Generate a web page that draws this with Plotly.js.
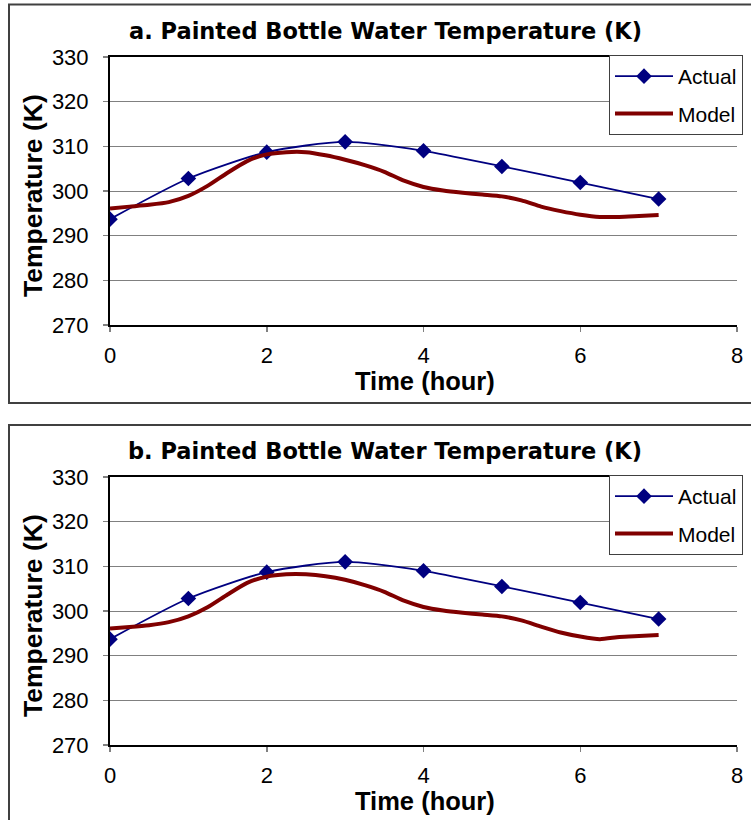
<!DOCTYPE html>
<html>
<head>
<meta charset="utf-8">
<script src="https://cdn.plot.ly/plotly-3.0.1.min.js"></script>
<style>
  html, body { margin: 0; padding: 0; background: #ffffff; }
  #chart { width: 751px; height: 820px; }
</style>
</head>
<body>
<div id="chart"></div>
<script>
// ---- Data ----
var hoursActual = [0, 1, 2, 3, 4, 5, 6, 7];
var actualA = [293.7, 302.8, 308.7, 311.0, 309.0, 305.5, 301.9, 298.2];
var actualB = [293.7, 302.8, 308.7, 311.0, 309.0, 305.5, 301.9, 298.2];

var hoursModel = [0, 0.25, 0.5, 0.75, 1, 1.25, 1.5, 1.75, 2, 2.25, 2.5, 2.75, 3, 3.25, 3.5,
                  3.75, 4, 4.25, 4.5, 4.75, 5, 5.25, 5.5, 5.75, 6, 6.25, 6.5, 6.75, 7];
var modelA = [296.1, 296.5, 296.9, 297.5, 298.9, 301.2, 304.1, 306.7, 308.2, 308.7, 308.7, 308.0,
              307.0, 305.8, 304.3, 302.3, 300.9, 300.1, 299.6, 299.2, 298.8, 297.9, 296.5, 295.5,
              294.7, 294.2, 294.2, 294.4, 294.6];
var modelB = [296.1, 296.4, 296.8, 297.5, 298.8, 300.9, 303.7, 306.3, 307.7, 308.2, 308.2, 307.8,
              307.0, 305.8, 304.3, 302.3, 300.9, 300.1, 299.6, 299.2, 298.8, 297.9, 296.5, 295.2,
              294.3, 293.7, 294.2, 294.4, 294.6];

var panelTitles = ["a. Painted Bottle Water Temperature (K)", "b. Painted Bottle Water Temperature (K)"];
var seriesNames = ["Actual", "Model"];
var xTitle = "Time (hour)";
var yTitle = "Temperature (K)";

// ---- Layout helpers (pixel -> paper) ----
var W = 751, H = 820;
function px(x) { return x / W; }
function py(y) { return 1 - y / H; }

var navy = "#000080", maroon = "#800000";
var fontFamily = "Liberation Sans, Arial, sans-serif";

function actualTrace(y, xa, ya, leg, grp) {
  return {
    x: hoursActual, y: y, xaxis: xa, yaxis: ya, name: seriesNames[0],
    type: "scatter", mode: "lines+markers", legend: leg, legendgroup: grp,
    line: { color: navy, width: 1.8, shape: "spline", smoothing: 0.7 },
    marker: { symbol: "diamond", size: 12, color: navy }
  };
}
function modelTrace(y, xa, ya, leg, grp) {
  return {
    x: hoursModel, y: y, xaxis: xa, yaxis: ya, name: seriesNames[1],
    type: "scatter", mode: "lines", legend: leg, legendgroup: grp,
    line: { color: maroon, width: 4, shape: "spline", smoothing: 0.6 }
  };
}

var data = [
  actualTrace(actualA, "x", "y", "legend", "a1"),
  modelTrace(modelA, "x", "y", "legend", "m1"),
  actualTrace(actualB, "x2", "y2", "legend2", "a2"),
  modelTrace(modelB, "x2", "y2", "legend2", "m2")
];

function xAxis(anchor) {
  return {
    domain: [px(110), px(737)], anchor: anchor, range: [0, 8], dtick: 2, tick0: 0,
    showgrid: false, zeroline: false, showline: true, linecolor: "#000000", linewidth: 2,
    mirror: true, ticks: "outside", ticklen: 5, tickcolor: "#808080", tickwidth: 1.5,
    ticklabelstandoff: 5,
    tickfont: { family: fontFamily, size: 22, color: "#000000" }, fixedrange: true
  };
}
function yAxis(domainY, anchor) {
  return {
    domain: domainY, anchor: anchor, range: [270, 330], dtick: 10, tick0: 270,
    showgrid: true, gridcolor: "#808080", gridwidth: 1, zeroline: false,
    showline: true, linecolor: "#000000", linewidth: 2,
    ticks: "outside", ticklen: 5, tickcolor: "#808080", tickwidth: 1.5,
    ticklabelstandoff: 10,
    tickfont: { family: fontFamily, size: 22, color: "#000000" }, fixedrange: true
  };
}

function legendBox(topPx) {
  return {
    x: px(609), y: py(topPx), xanchor: "left", yanchor: "top",
    bgcolor: "#ffffff", bordercolor: "#404040", borderwidth: 1,
    font: { family: fontFamily, size: 21, color: "#000000" },
    traceorder: "grouped", tracegroupgap: 7, itemwidth: 58
  };
}

var offsets = [0, 420];
var annotations = [];
var shapes = [];
offsets.forEach(function (o, i) {
  annotations.push({
    xref: "paper", yref: "paper", x: px(385), y: py(31 + o), xanchor: "center", yanchor: "middle",
    text: "<b>" + panelTitles[i] + "</b>", showarrow: false,
    font: { family: "DejaVu Sans, sans-serif", size: 22.5, color: "#000000" }
  });
  annotations.push({
    xref: "paper", yref: "paper", x: px(425), y: py(381 + o), xanchor: "center", yanchor: "middle",
    text: "<b>" + xTitle + "</b>", showarrow: false,
    font: { family: fontFamily, size: 25.5, color: "#000000" }
  });
  annotations.push({
    xref: "paper", yref: "paper", x: px(33), y: py(196 + o), xanchor: "center", yanchor: "middle",
    text: "<b>" + yTitle + "</b>", showarrow: false, textangle: -90,
    font: { family: fontFamily, size: 26.5, color: "#000000" }
  });
});
shapes.push({ type: "rect", xref: "paper", yref: "paper", x0: px(9), x1: px(770), y0: py(403), y1: py(4.5),
              line: { color: "#404040", width: 2 }, fillcolor: "rgba(0,0,0,0)", layer: "below" });
shapes.push({ type: "rect", xref: "paper", yref: "paper", x0: px(9), x1: px(770), y0: py(840), y1: py(425),
              line: { color: "#404040", width: 2 }, fillcolor: "rgba(0,0,0,0)", layer: "below" });

var layout = {
  width: W, height: H,
  margin: { l: 0, r: 0, t: 0, b: 0 },
  paper_bgcolor: "#ffffff", plot_bgcolor: "#ffffff",
  showlegend: true,
  xaxis: xAxis("y"),
  yaxis: yAxis([py(325), py(57)], "x"),
  xaxis2: xAxis("y2"),
  yaxis2: yAxis([py(745), py(477)], "x2"),
  legend: legendBox(55),
  legend2: legendBox(475),
  annotations: annotations,
  shapes: shapes
};

Plotly.newPlot("chart", data, layout, { displayModeBar: false, staticPlot: true });
</script>
</body>
</html>
